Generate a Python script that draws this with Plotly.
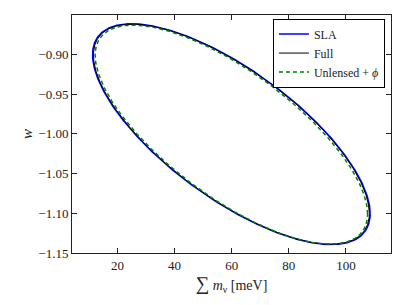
import numpy as np
import plotly.graph_objects as go

# Fisher-ellipse parameters (centre, half-extents, correlation)
series_names = ["SLA", "Full", "Unlensed + <i>ϕ</i>"]
center_mnu = [59.9, 59.9, 59.9]          # meV
center_w = [-1.0005, -1.0005, -1.0010]
half_width_mnu = [48.6, 48.3, 47.7]      # meV (half extent in x)
half_height_w = [0.1389, 0.1385, 0.1378] # half extent in y
correlation = [-0.720, -0.720, -0.725]
colors = ["#0000ff", "#000000", "#008000"]

x_ticks = [20, 40, 60, 80, 100]
y_ticks = [-1.15, -1.10, -1.05, -1.00, -0.95, -0.90]
y_tick_labels = ["−1.15", "−1.10", "−1.05", "−1.00", "−0.95", "−0.90"]

t = np.linspace(0, 2 * np.pi, 721)

def ellipse(i):
    a, b, r = half_width_mnu[i], half_height_w[i], correlation[i]
    x = center_mnu[i] + a * np.cos(t)
    y = center_w[i] + b * (r * np.cos(t) + np.sqrt(1 - r * r) * np.sin(t))
    return x, y

fig = go.Figure()
styles = [dict(width=1.6), dict(width=1.0), dict(width=1.5, dash="4px,3px")]
for i in range(3):
    x, y = ellipse(i)
    fig.add_trace(go.Scatter(x=x, y=y, mode="lines", name=series_names[i],
                             line=dict(color=colors[i], **styles[i]),
                             legendrank=i + 1))

font = "Liberation Serif, serif"
axis_common = dict(showgrid=False, zeroline=False, showline=True, linecolor="#222",
                   linewidth=1, mirror="ticks", ticks="inside", ticklen=5,
                   tickcolor="#222", automargin=False,
                   tickfont=dict(family=font, size=13, color="#222"))

fig.update_layout(
    width=407, height=305,
    margin=dict(l=72, r=16, t=15, b=52),
    paper_bgcolor="white", plot_bgcolor="white",
    font=dict(family=font, color="#222"),
    xaxis=dict(range=[4.1, 115.8], tickvals=x_ticks,
               title=dict(text="<span style='font-size:19px'>∑</span> <i>m</i><sub>ν</sub> [meV]",
                          font=dict(family=font, size=14), standoff=2),
               **axis_common),
    yaxis=dict(range=[-1.15, -0.8505], tickvals=y_ticks, ticktext=y_tick_labels,
               title=dict(text="<i>w</i>", font=dict(family=font, size=15), standoff=2),
               **axis_common),
    legend=dict(x=0.981, y=0.985, xanchor="right", yanchor="top",
                bgcolor="white", bordercolor="black", borderwidth=1,
                font=dict(family=font, size=12, color="#222"),
                itemwidth=30, tracegroupgap=0),
    showlegend=True,
)

fig.write_html("out.html", config={"displayModeBar": False},
               post_script="document.body.style.margin='0';document.body.style.padding='0';")
